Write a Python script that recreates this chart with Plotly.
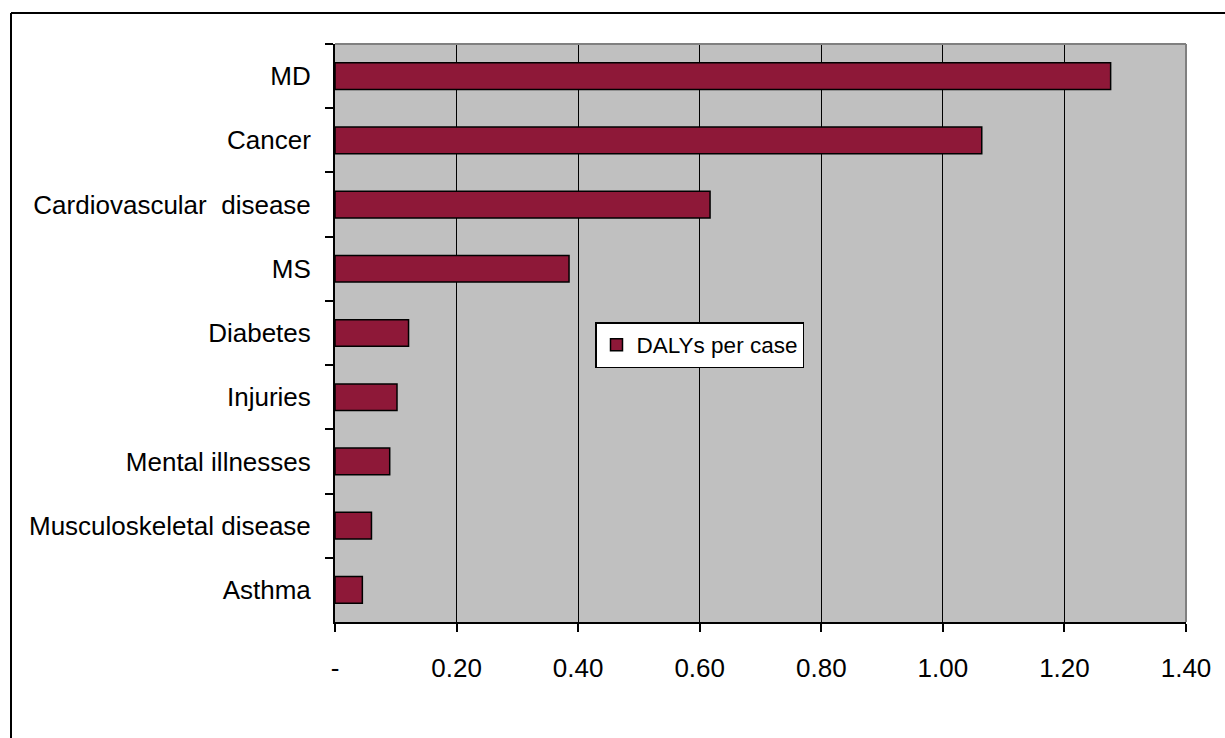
import plotly.graph_objects as go

# DALYs per case by condition (top to bottom as listed)
conditions = [
    "MD",
    "Cancer",
    "Cardiovascular  disease",
    "MS",
    "Diabetes",
    "Injuries",
    "Mental illnesses",
    "Musculoskeletal disease",
    "Asthma",
]
dalys_per_case = [1.276, 1.064, 0.617, 0.385, 0.121, 0.102, 0.090, 0.060, 0.045]

x_tick_values = [0.0, 0.2, 0.4, 0.6, 0.8, 1.0, 1.2, 1.4]
x_tick_labels = ["-", "0.20", "0.40", "0.60", "0.80", "1.00", "1.20", "1.40"]

series_name = "DALYs per case"

W, H = 1225, 738
M_L, M_R, M_T, M_B = 335, 39, 44, 116
plot_w = W - M_L - M_R
plot_h = H - M_T - M_B


def px_to_paper_x(px):
    return (px - M_L) / plot_w


def px_to_paper_y(py):
    return (H - M_B - py) / plot_h


FONT = "Arial, Liberation Sans, sans-serif"
BAR_COLOR = "#8E1838"

fig = go.Figure()
fig.add_trace(
    go.Bar(
        x=dalys_per_case,
        y=conditions,
        orientation="h",
        name=series_name,
        marker=dict(color=BAR_COLOR, line=dict(color="#000000", width=1.5)),
        showlegend=True,
    )
)

fig.update_layout(
    width=W,
    height=H,
    margin=dict(l=M_L, r=M_R, t=M_T, b=M_B),
    paper_bgcolor="#FFFFFF",
    plot_bgcolor="#C0C0C0",
    bargap=0.585,
    font=dict(family=FONT, size=22, color="#000000"),
    showlegend=True,
    legend=dict(
        x=px_to_paper_x(595),
        y=px_to_paper_y(322),
        xanchor="left",
        yanchor="top",
        bgcolor="#FFFFFF",
        bordercolor="#000000",
        borderwidth=1.5,
        font=dict(family=FONT, size=22.5, color="#000000"),
        itemwidth=30,
        entrywidthmode="pixels",
    ),
    xaxis=dict(
        range=[0, 1.4],
        tickvals=x_tick_values,
        ticktext=x_tick_labels,
        showgrid=True,
        gridcolor="#000000",
        gridwidth=1,
        zeroline=False,
        showline=True,
        linecolor="#000000",
        linewidth=2,
        ticks="outside",
        ticklen=8,
        tickwidth=1.5,
        tickcolor="#000000",
        ticklabelstandoff=14,
        tickfont=dict(family=FONT, size=26, color="#000000"),
    ),
    yaxis=dict(
        type="category",
        categoryorder="array",
        categoryarray=conditions,
        autorange="reversed",
        showgrid=False,
        zeroline=False,
        showline=True,
        linecolor="#000000",
        linewidth=2,
        ticks="outside",
        tickson="boundaries",
        ticklen=8,
        tickwidth=1.5,
        tickcolor="#000000",
        ticklabelstandoff=17,
        tickfont=dict(family=FONT, size=26, color="#000000"),
    ),
    shapes=[
        # grey frame on the top and right of the plotting area
        dict(type="line", xref="paper", yref="paper", x0=0, x1=1, y0=1, y1=1,
             line=dict(color="#808080", width=2)),
        dict(type="line", xref="paper", yref="paper", x0=1, x1=1, y0=0, y1=1,
             line=dict(color="#808080", width=2)),
        # outer chart border (top and left edges)
        dict(type="line", xref="paper", yref="paper",
             x0=px_to_paper_x(11), x1=px_to_paper_x(W + 5),
             y0=px_to_paper_y(13), y1=px_to_paper_y(13),
             line=dict(color="#000000", width=2)),
        dict(type="line", xref="paper", yref="paper",
             x0=px_to_paper_x(11), x1=px_to_paper_x(11),
             y0=px_to_paper_y(13), y1=px_to_paper_y(H + 5),
             line=dict(color="#000000", width=2)),
    ],
)

fig.write_html("out.html")
